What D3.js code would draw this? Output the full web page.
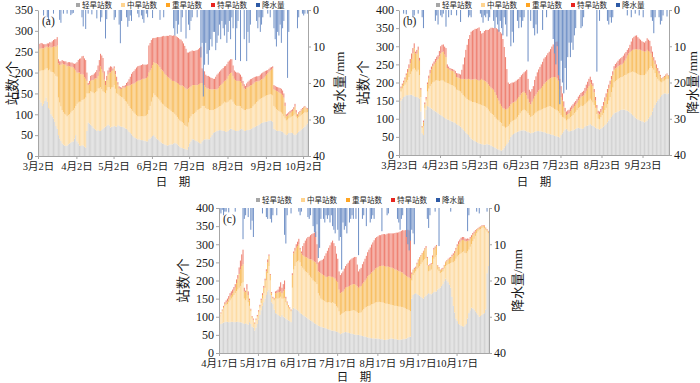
<!DOCTYPE html>
<html><head><meta charset="utf-8">
<script src="https://cdn.jsdelivr.net/npm/d3@7"></script>
<style>body{margin:0;background:#fff}svg{display:block}</style>
</head><body>
<svg id="chart" width="700" height="383"></svg>
<script>
// ---------- names ----------
const seriesNames = ["轻旱站数","中旱站数","重旱站数","特旱站数"];
const rainName = "降水量";
const leftTitle = "站数/个";
const rightTitle = "降水量/mm";
const xTitle = "日　期";

// ---------- panel (a) ----------
const aTickLabels = ["3月2日","4月2日","5月2日","6月2日","7月2日","8月2日","9月2日","10月2日"];
const aLight = [140,135,128,120,125,132,140,130,115,112,100,95,90,82,72,65,50,42,36,30,27,25,24,25,28,30,32,34,35,42,50,35,30,25,24,26,25,22,20,60,80,78,75,72,68,65,63,60,62,60,60,62,65,68,70,72,75,73,68,70,70,72,71,70,74,72,71,70,70,68,66,65,62,58,55,52,48,45,43,42,40,40,39,38,38,37,36,35,35,40,42,45,48,50,46,42,40,38,35,32,30,29,27,26,25,26,27,28,28,30,31,30,28,25,22,20,19,18,17,16,15,22,30,35,40,40,38,36,35,33,31,30,35,38,40,40,40,40,40,45,50,55,57,58,60,61,62,62,61,60,60,58,58,60,63,65,65,62,62,60,60,60,62,64,65,63,60,60,62,62,63,64,65,67,69,70,72,73,75,77,79,80,81,82,82,83,84,85,84,82,65,63,61,60,60,60,59,58,55,52,50,52,55,55,56,55,52,50,52,55,58,60,63,65,68,70,74,78];
const aModerate = [60,68,77,85,80,75,70,80,90,95,102,106,110,115,120,125,90,86,83,80,78,76,75,70,70,70,72,74,75,72,70,90,98,105,106,108,110,115,120,90,70,72,80,82,84,85,90,95,100,102,105,98,90,85,80,85,90,92,92,94,95,98,90,80,75,73,72,71,70,68,66,65,63,62,60,60,60,59,58,56,55,55,56,57,57,58,60,62,65,70,78,85,92,100,100,100,100,99,98,96,95,94,92,91,90,87,84,80,77,74,70,67,65,64,63,63,62,60,57,56,55,58,60,60,60,60,65,70,75,78,82,85,85,82,80,75,72,72,70,65,60,55,55,55,55,56,57,58,62,66,70,70,70,70,70,70,70,68,63,62,60,60,58,55,50,50,50,50,50,50,50,50,50,52,54,55,57,58,60,60,60,60,61,62,63,63,63,63,63,63,55,53,51,50,48,46,45,43,40,38,35,35,35,37,38,40,45,50,42,35,35,35,35,35,35,35,30,27];
const aSevere = [55,54,54,53,53,53,52,52,55,56,58,60,62,66,70,75,82,90,100,112,115,118,120,120,118,115,110,106,102,95,85,75,72,70,66,63,60,52,45,30,20,22,25,28,30,35,33,31,30,40,50,48,45,30,20,25,30,35,40,40,40,40,35,30,22,17,18,20,25,28,32,38,43,49,55,60,65,70,75,80,85,86,87,88,90,90,90,90,90,90,85,80,78,75,77,80,80,80,80,80,80,79,78,77,75,75,75,75,75,76,78,80,82,84,85,86,88,89,90,90,90,82,75,72,70,70,67,64,60,60,60,60,55,50,50,50,50,50,50,50,50,50,48,47,45,46,48,50,50,50,50,53,57,62,63,64,65,62,60,60,60,60,60,60,60,55,52,50,52,53,54,55,55,54,53,53,50,48,45,45,45,45,46,48,50,52,55,57,60,65,40,42,44,45,45,45,45,45,45,30,10,10,10,11,12,13,15,18,10,6,8,10,11,12,13,13,10,8];
const aExtreme = [13,12,12,12,10,8,6,8,10,10,12,14,16,17,18,20,10,9,8,8,8,8,8,9,9,10,10,10,10,12,17,25,30,33,38,42,45,45,45,20,5,8,12,12,13,13,15,20,25,28,30,33,35,20,10,10,10,12,15,10,5,5,8,10,6,5,4,3,3,4,6,7,10,15,20,25,28,30,32,34,35,35,35,35,35,34,33,32,30,65,66,68,64,58,60,62,65,68,72,78,82,86,90,94,98,100,104,106,108,109,110,110,110,110,110,110,106,103,100,95,88,86,85,84,83,82,82,83,84,85,86,87,35,35,33,30,30,30,30,28,27,25,25,30,35,35,35,35,35,35,35,35,35,34,33,33,32,25,20,20,20,20,18,16,15,12,10,8,10,13,14,15,15,14,13,12,12,12,12,13,14,15,14,12,10,8,7,7,6,5,10,10,10,10,11,12,12,11,10,8,5,5,5,5,4,4,5,7,6,4,4,3,3,3,2,2,2,2];
const aRain = [0,0,0,0,1.5,0,0,2,3,0,0,0,1,0,0,0,0,2.7,3.5,0,1,0,0,1,0,0,1.4,1,0.8,0,0,0,0,0,0,2,4.5,0,5.2,0,1,0,0,1.2,0,0,0,2.3,0,0,3.2,2,0,0,7.8,2.5,0,0,0,0,0,2.7,2,0,0,4,9.1,3,0,0,0,2,4.6,3,1.5,3,0,0,0,0,1,2,0,1.5,2.5,3.5,0,1,2,0,0,0,2.2,0,0,0,0,0,2.7,0,0,2,0,0,0,0,0,0,0,5,7,3,6.5,4,0,6,2,0,0,7.8,0,4,5.5,3,2,0,0,0,2,0,0,13,9,23.7,15,9,12,15,11,8,10,6,6,11,9,7,4,8,3,5,7,4,9,6,3,8,2,5,0,13.7,5,3,0,14,0,0,8,0,14,6,9,4,0,0,0,0,3,5,2,6,4,2,0,0,0,1,0,2,0,0,5,8,10,6,7,4,9,5,3,0,0,18.6,6,0,0,0,0,0,0,5,2,0,0,1,1.5,1,0,1];

// ---------- panel (b) ----------
const bTickLabels = ["3月23日","4月23日","5月23日","6月23日","7月23日","8月23日","9月23日"];
const bLight = [115,150,155,160,162,165,165,165,166,166,164,162,160,160,158,155,120,60,55,100,125,135,133,130,128,125,122,120,118,115,112,110,108,105,102,100,98,97,95,93,92,90,88,85,83,80,78,74,70,66,62,58,55,50,45,42,40,38,36,34,32,31,30,29,28,29,30,29,28,26,24,22,20,18,16,15,13,12,15,20,25,30,35,42,50,55,58,60,62,64,65,67,68,68,68,67,65,63,62,60,61,62,64,65,66,66,65,65,64,63,62,60,59,58,57,56,55,53,52,51,50,48,55,60,65,70,72,68,65,66,67,68,70,72,74,75,74,73,72,74,78,80,81,82,85,82,80,78,75,73,72,70,72,75,78,82,85,90,95,100,105,110,115,117,118,120,122,124,125,125,125,123,122,120,117,114,110,107,103,100,98,96,95,93,92,90,92,95,100,105,110,120,130,138,145,150,155,160,165,168,170,170,168,170];
const bModerate = [35,25,28,30,32,35,42,50,57,64,72,78,75,70,77,65,40,15,25,30,25,40,50,60,68,75,80,85,88,90,92,95,98,100,100,100,100,100,100,100,100,100,98,95,96,97,97,96,95,95,96,96,97,100,103,104,106,107,107,108,108,108,108,107,107,104,100,96,92,90,89,88,85,82,81,80,78,76,65,58,50,47,45,42,40,39,37,37,38,41,45,48,52,55,57,56,55,52,48,45,46,48,50,52,54,56,58,60,63,66,68,71,74,77,77,76,75,74,73,72,70,67,55,45,38,30,23,30,35,38,40,42,45,47,50,54,58,63,63,62,62,64,66,68,70,68,65,60,55,40,28,28,32,35,38,42,45,50,55,60,68,76,85,87,88,90,90,90,90,92,95,98,102,105,110,115,120,122,124,125,125,125,125,127,128,130,132,135,135,135,135,120,105,88,70,60,50,42,35,35,35,38,42,40];
const bSevere = [2,10,10,10,15,20,22,25,30,35,45,55,45,50,55,40,20,3,10,10,5,20,28,35,40,45,48,50,55,60,68,75,78,80,75,70,42,41,40,40,40,40,38,35,35,35,35,40,45,48,52,55,58,59,60,62,63,65,65,65,65,68,72,71,70,70,70,70,70,70,70,70,68,65,60,55,50,47,50,50,50,50,50,50,50,50,50,50,50,50,50,50,50,50,50,48,45,40,35,35,40,45,48,50,53,56,58,60,63,67,70,72,74,75,78,82,85,88,90,88,85,65,50,45,30,20,15,15,15,17,19,20,20,20,20,22,24,25,27,28,30,33,37,40,45,45,45,35,20,17,15,14,14,15,20,25,30,32,34,35,35,35,35,35,35,35,35,35,35,37,40,45,50,55,57,58,60,62,65,67,68,70,70,68,67,65,62,60,52,45,35,30,25,25,25,22,20,15,10,10,10,11,12,8];
const bExtreme = [5,4,4,5,5,5,8,10,12,15,14,13,5,10,9,8,5,2,5,5,5,5,8,10,8,7,8,10,10,10,15,20,20,20,22,25,10,6,5,5,5,5,8,11,11,12,12,25,40,60,80,95,110,122,132,135,136,138,140,143,147,135,125,130,137,142,145,150,158,165,168,170,178,185,190,195,198,200,190,170,145,110,70,62,58,56,55,55,55,53,50,50,50,51,53,60,70,55,35,35,35,35,45,50,55,58,62,65,67,70,70,72,74,75,80,85,90,94,97,102,105,30,30,20,15,10,10,10,10,10,10,10,10,10,10,10,10,10,12,13,15,17,18,20,16,12,8,9,10,8,7,8,9,10,10,10,10,10,10,10,10,10,10,12,14,15,17,18,20,20,20,18,16,15,20,26,32,35,37,38,34,30,28,26,25,25,28,32,31,30,20,15,10,10,10,8,7,4,2,2,3,3,3,2];
const bRain = [0,0,0,1,0,1.2,0,0,0,0,2,1.5,0,0,1,0,0,2,5,0,0,0,0,0,0,0,0,3,1.5,4,0,1.5,2,1,0,4.6,0,2,0,1.4,0,0,0,1.5,0,0,3.3,0,0,0,0,0,2,1.5,2,0,0,0,0,0,0,1,2,3.5,1.5,2,1,3,2,0,0,3,5,2,4,6,3,5,7,2,4,7.3,0,0,10,6,9,0,0,3,5,2,4.8,3,2,0,0,14.2,0,3,0,5,7,4,6.5,0,0,0,5.5,0,0,2,0,0,0,0,8,12,15,10,18,26,14,20,23,16,22,13,9,13,9,11,7,5,0,0,0,5,4.5,2,0,0,0,0,0,0,0,0,0,17,0,3,0,0,0,0,0,3,4,2,3.5,2,0,0,0,0,0,0,0,0,0,0,1.5,0,0,2,0,0,1,0,0,1.5,0,0,2,0,0,0,0,0,2,3,6.4,2,0,0,2,4,3,1.5,0,0,1.8,0];

// ---------- panel (c) ----------
const cTickLabels = ["4月17日","5月17日","6月17日","7月17日","8月17日","9月17日","10月17日"];
const cLight = [78,80,82,84,85,86,86,85,85,86,86,85,85,86,86,85,85,84,82,80,82,80,78,85,80,72,70,62,70,80,92,105,118,130,140,150,160,170,175,160,140,135,120,110,108,105,102,100,105,100,98,95,92,90,88,85,120,125,122,120,118,115,110,108,105,102,100,98,95,92,90,88,85,82,80,78,75,74,72,71,70,69,68,66,65,64,62,62,61,60,59,58,55,52,54,55,57,58,57,56,55,54,53,52,51,50,50,50,49,48,47,46,45,44,43,42,41,41,40,40,40,40,39,39,38,38,37,36,36,37,38,39,40,40,39,38,38,37,36,36,37,38,38,39,40,42,44,45,150,160,163,165,163,160,158,155,152,150,155,158,162,165,163,162,165,168,169,170,175,178,180,185,190,198,205,200,195,188,180,155,130,112,95,88,80,78,75,74,72,76,80,95,110,118,125,123,120,115,110,105,100,102,105,108,110,120,220,240];
const cModerate = [22,28,33,39,45,47,49,55,60,64,69,75,80,85,89,95,100,108,113,70,63,70,62,45,35,23,20,18,20,20,20,20,20,20,25,30,40,50,65,40,20,15,25,40,42,45,50,55,45,50,54,45,40,35,32,30,60,105,118,130,135,140,140,132,130,128,125,125,125,122,120,118,115,115,115,112,90,84,78,76,75,74,72,73,75,76,76,78,77,75,70,67,60,53,54,55,56,57,58,59,60,62,64,66,66,65,62,60,62,64,70,75,80,83,86,88,90,93,95,97,99,100,101,102,102,102,102,102,100,99,97,95,93,92,92,92,92,92,92,92,90,89,87,84,81,78,74,70,50,55,58,60,68,75,82,90,98,105,104,104,80,60,64,68,80,92,96,100,55,48,40,38,35,35,35,42,50,58,68,95,120,142,165,178,190,195,200,204,208,200,195,185,175,175,175,185,195,208,220,230,240,240,240,238,235,220,115,90];
const cSevere = [2,2,3,4,5,6,7,8,10,10,10,12,15,22,30,38,45,48,50,20,23,25,20,15,5,5,2,2,2,2,3,5,8,10,15,20,25,30,28,15,5,2,5,15,16,18,16,15,15,20,23,10,7,5,4,3,35,45,42,40,42,45,35,35,35,38,40,41,42,45,48,52,55,55,55,55,60,65,70,70,70,70,70,71,72,72,72,70,70,70,70,70,60,60,60,60,62,65,67,68,70,71,72,72,73,73,72,70,72,73,74,74,75,78,82,85,87,88,90,92,94,95,97,99,100,101,102,102,102,103,103,103,103,103,102,101,100,99,98,97,96,95,93,92,91,90,90,90,18,13,11,10,15,20,22,23,24,25,27,28,20,15,15,15,20,25,25,25,10,9,8,8,7,8,10,12,13,14,14,17,20,22,25,28,30,32,35,34,32,33,33,30,25,22,20,18,15,12,10,8,6,5,5,5,5,4,5,5];
const cExtreme = [2,2,2,3,5,6,8,9,10,10,10,10,10,10,10,18,25,32,40,10,4,15,10,5,2,2,3,2,3,3,3,3,4,5,5,5,6,8,4,3,3,3,2,5,6,7,15,25,15,20,25,5,3,2,2,2,5,5,8,10,12,15,5,5,25,35,45,52,58,62,67,70,75,80,85,55,25,30,35,40,45,55,65,72,78,85,95,100,95,90,75,65,50,50,52,55,58,60,63,66,70,71,72,73,75,77,60,45,48,50,54,57,60,63,67,70,73,77,80,82,84,85,85,85,85,86,87,88,89,90,92,93,94,95,97,100,102,104,107,110,114,117,120,124,127,130,130,130,4,2,3,3,3,3,2,2,2,2,3,5,3,2,3,3,4,5,4,3,2,2,2,2,3,2,2,2,2,3,3,4,5,5,5,6,8,8,8,8,8,7,7,6,5,5,5,5,5,4,2,2,2,2,2,2,2,2,2,2];
const cRain = [1,1.5,0.5,2,1,1,0,1.2,0,0,0,0,1,0,0,0,0,0,8.6,3,2,0,2.5,0,6,3.5,8,0,0,0,0,0,0,1.5,0,0,2.5,3,0,3,4,2,0,0,2,0,0,0,0,0,7.4,9.8,2,0,0,1.5,0,0,0,0,0,1,2,1,0,0,0,0,2.5,3,2,0,5,6.7,8,4.5,13.8,11,3,0,3,4,2,3,2,4,2,5,6,7,0,6,9,8,17,4,6,5,7,0,4,3,2,3,0,3,0,13,0,0,3,2,0,5,0,0,4,3,2,3,0,0,0,0,0,6.4,0,0,0,2,1.5,0,0,0,0,0,0,3,4,6,3,2,0,0,8,10,11.7,9,6,7,10,0,0,0,0,0,0,0,0,0,3,5.5,2,0,0,0,1,0,0,10.5,0,0,0,0,0,0,0,0,1,0,0,0,0,0,0,0,0,0,0,0,0,6.4,2,0,0,0,0,0,1,0,1.5,0,0,0,0,0,1,0];

// ---------- styles ----------
const barColors = ["#d3d3d3","#fddba3","#f8bf62","#ef8273"];
const rainColor = "#7393c8";
const markerColors = ["#a6a6a6","#ffd48f","#ffa522","#e8261f","#2d5aa6"];
const axisColor = "#a6a6a6";
const textColor = "#1a1a1a";
const FONT = "'Liberation Serif','Noto Sans CJK SC',serif";

const panels = [
  {label:"(a)", ticks:aTickLabels, light:aLight, moderate:aModerate, severe:aSevere, extreme:aExtreme, rain:aRain, yMax:350,
   l:38, r:308, t:10, b:156, legendX:76, legendY:5, leftTitleX:12, rightTitleX:339, xTitleY:186},
  {label:"(b)", ticks:bTickLabels, light:bLight, moderate:bModerate, severe:bSevere, extreme:bExtreme, rain:bRain, yMax:400,
   l:399, r:669, t:10, b:155, legendX:436, legendY:5, leftTitleX:363, rightTitleX:692, xTitleY:186},
  {label:"(c)", ticks:cTickLabels, light:cLight, moderate:cModerate, severe:cSevere, extreme:cExtreme, rain:cRain, yMax:400,
   l:219, r:489, t:208, b:353, legendX:256, legendY:200, leftTitleX:183, rightTitleX:517, xTitleY:381}
];

const svg = d3.select("#chart");
const keys = ["light","moderate","severe","extreme"];
const parseLabel = s => { const m = s.match(/(\d+)月(\d+)日/); return new Date(2023, +m[1]-1, +m[2]); };

function drawPanel(p) {
  const n = p.light.length;
  const start = parseLabel(p.ticks[0]);
  const x = d3.scaleLinear().domain([0, n]).range([p.l, p.r]);
  const y = d3.scaleLinear().domain([0, p.yMax]).range([p.b, p.t]);
  const yR = d3.scaleLinear().domain([0, 40]).range([p.t, p.b]);
  const step = x(1) - x(0);
  const bw = step * 0.8;
  const rows = d3.range(n).map(i => ({i, light:p.light[i], moderate:p.moderate[i], severe:p.severe[i], extreme:p.extreme[i]}));
  const stacked = d3.stack().keys(keys)(rows);
  const g = svg.append("g");

  g.selectAll("g.layer").data(stacked).join("g").attr("class","layer")
    .attr("fill", (d, k) => barColors[k])
    .selectAll("rect").data(d => d).join("rect")
    .attr("x", d => x(d.data.i) + (step - bw) / 2)
    .attr("width", bw)
    .attr("y", d => y(d[1]))
    .attr("height", d => Math.max(0, y(d[0]) - y(d[1])));

  const rainData = p.rain.map((v, i) => ({i, v})).filter(d => d.v > 0);
  g.append("g").attr("fill", rainColor).selectAll("rect").data(rainData).join("rect")
    .attr("x", d => x(d.i) + (step - bw) / 2)
    .attr("width", bw)
    .attr("y", yR(0))
    .attr("height", d => yR(d.v) - yR(0));

  // axes
  const styleAxis = (sel, fs) => {
    sel.select(".domain").attr("stroke", axisColor);
    sel.selectAll(".tick line").attr("stroke", axisColor);
    sel.selectAll(".tick text").attr("fill", textColor).style("font-family", FONT).style("font-size", fs + "px");
  };
  const yAxis = g.append("g").attr("transform", `translate(${p.l},0)`)
    .call(d3.axisLeft(y).tickValues(d3.range(0, p.yMax + 1, 50)).tickSize(3).tickSizeOuter(0).tickPadding(2));
  styleAxis(yAxis, 12);
  const rAxis = g.append("g").attr("transform", `translate(${p.r},0)`)
    .call(d3.axisRight(yR).tickValues([0,10,20,30,40]).tickSize(3).tickSizeOuter(0).tickPadding(2));
  styleAxis(rAxis, 12);
  const tickOffsets = p.ticks.map(s => d3.timeDay.count(start, parseLabel(s)));
  const xAxis = g.append("g").attr("transform", `translate(0,${p.b})`)
    .call(d3.axisBottom(x).tickValues(tickOffsets).tickFormat((d, i) => p.ticks[i]).tickSize(3).tickSizeOuter(0).tickPadding(4));
  styleAxis(xAxis, 10.5);

  // titles
  const midY = (p.t + p.b) / 2;
  g.append("text").attr("transform", `translate(${p.leftTitleX},${midY}) rotate(-90)`)
    .attr("text-anchor","middle").attr("dy","0.35em").attr("fill",textColor)
    .style("font-family",FONT).style("font-size","13.5px").text(leftTitle);
  g.append("text").attr("transform", `translate(${p.rightTitleX},${midY}) rotate(-90)`)
    .attr("text-anchor","middle").attr("dy","0.35em").attr("fill",textColor)
    .style("font-family",FONT).style("font-size","13px").text(rightTitle);
  g.append("text").attr("x", (p.l + p.r) / 2).attr("y", p.xTitleY)
    .attr("text-anchor","middle").attr("fill",textColor)
    .style("font-family",FONT).style("font-size","11.5px").text(xTitle);
  g.append("text").attr("x", p.l + 4).attr("y", p.t + 15).attr("fill",textColor)
    .style("font-family",FONT).style("font-size","11.5px").text(p.label);

  // legend
  const items = seriesNames.concat([rainName]);
  let lx = p.legendX;
  items.forEach((name, k) => {
    g.append("rect").attr("x", lx).attr("y", p.legendY - 2).attr("width", 4).attr("height", 4).attr("fill", markerColors[k]);
    const t = g.append("text").attr("x", lx + 6).attr("y", p.legendY).attr("dy","0.35em")
      .attr("fill",textColor).style("font-family",FONT).style("font-size","7.5px").text(name);
    lx = lx + 6 + t.node().getComputedTextLength() + 9;
  });
}
panels.forEach(drawPanel);
</script>
</body></html>
